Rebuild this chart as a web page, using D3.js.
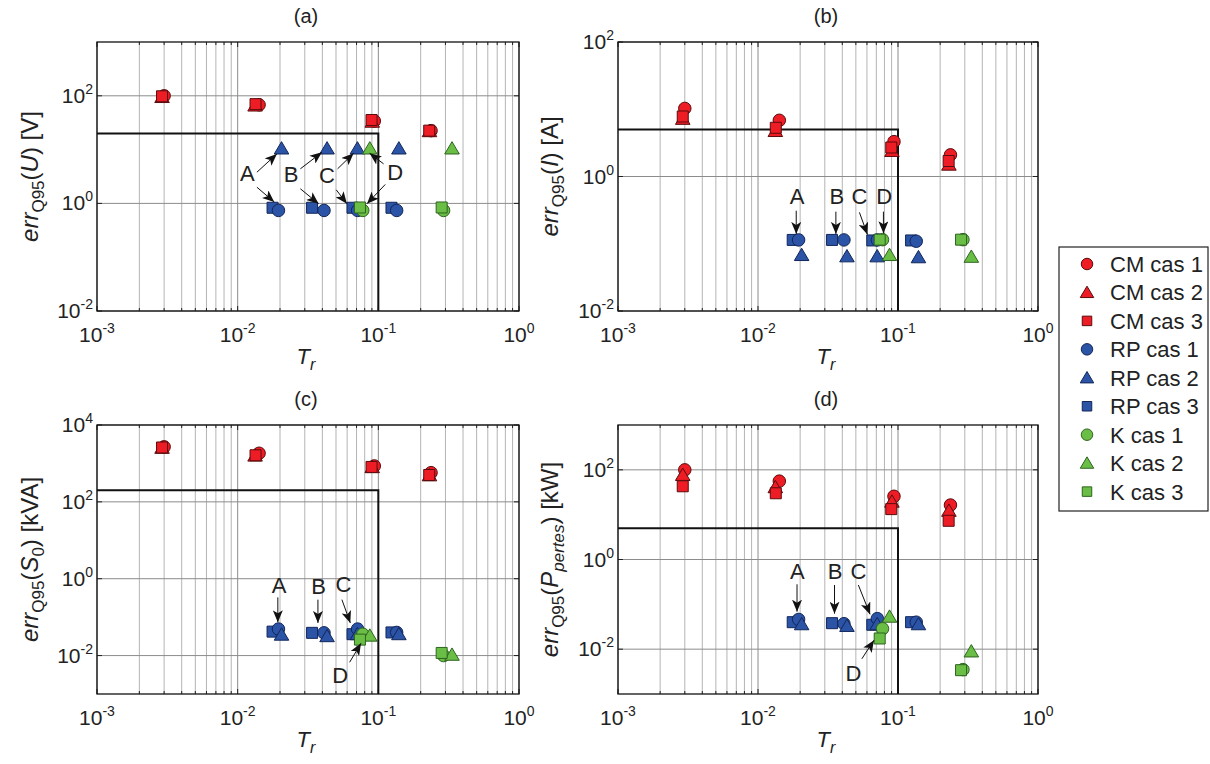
<!DOCTYPE html>
<html><head><meta charset="utf-8">
<script src="https://cdn.jsdelivr.net/npm/d3@7"></script>
<style>
body{margin:0;background:#fff}
svg{display:block}
text{font-family:"Liberation Sans",Arial,Helvetica,sans-serif;fill:#222}
</style>
</head><body>
<svg id="chart" width="1210" height="764"></svg>
<script>
// ---------- DATA ----------
const seriesNames = ["CM cas 1","CM cas 2","CM cas 3","RP cas 1","RP cas 2","RP cas 3","K cas 1","K cas 2","K cas 3"];
// T_r values of each series
const trCM1 = [0.0030, 0.0142, 0.0936, 0.237];
const trCM2 = [0.0029, 0.0133, 0.0905, 0.231];
const trCM3 = [0.0029, 0.0134, 0.0895, 0.230];
const trRP1 = [0.0195, 0.0411, 0.0712, 0.135];
const trRP2 = [0.0205, 0.0432, 0.0710, 0.140];
const trRP3 = [0.0177, 0.0338, 0.0655, 0.124];
const trK1  = [0.0775, 0.291];
const trK2  = [0.0870, 0.334];
const trK3  = [0.0740, 0.282];
const trAll = [trCM1, trCM2, trCM3, trRP1, trRP2, trRP3, trK1, trK2, trK3];

// (a) err_Q95(U) [V]
const errU = [
  [100, 68, 34, 22.5],
  [95, 66, 33, 22],
  [98, 70, 35.5, 22.5],
  [0.74, 0.74, 0.74, 0.74],
  [10.5, 10.5, 10.5, 10.5],
  [0.83, 0.83, 0.83, 0.83],
  [0.74, 0.74],
  [10.5, 10.5],
  [0.84, 0.84]
];
// (b) err_Q95(I) [A]
const errI = [
  [10.3, 6.85, 3.3, 2.1],
  [7.2, 4.75, 2.4, 1.5],
  [7.8, 5.3, 2.7, 1.7],
  [0.114, 0.114, 0.114, 0.109],
  [0.068, 0.065, 0.065, 0.063],
  [0.114, 0.114, 0.112, 0.112],
  [0.115, 0.115],
  [0.068, 0.064],
  [0.115, 0.115]
];
// (c) err_Q95(S0) [kVA]
const errS0 = [
  [2700, 1840, 860, 575],
  [2550, 1600, 800, 490],
  [2600, 1630, 810, 500],
  [0.049, 0.039, 0.049, 0.040],
  [0.035, 0.032, 0.036, 0.036],
  [0.042, 0.039, 0.036, 0.040],
  [0.036, 0.010],
  [0.033, 0.0105],
  [0.026, 0.0117]
];
// (d) err_Q95(P_pertes) [kW]
const errP = [
  [100, 56, 25.7, 16.4],
  [77, 41, 19.5, 12.2],
  [43, 30, 13.3, 7.3],
  [0.046, 0.037, 0.048, 0.040],
  [0.036, 0.033, 0.036, 0.036],
  [0.040, 0.038, 0.035, 0.040],
  [0.0286, 0.0035],
  [0.053, 0.0089],
  [0.0173, 0.0034]
];

const trLimit = 0.1;
const thresholds = [20, 5, 200, 5];
const xTicks = [1e-3, 1e-2, 1e-1, 1e0];
const yTicksA = [1e-2, 1e0, 1e2];
const yTicksB = [1e-2, 1e0, 1e2];
const yTicksC = [1e-2, 1e0, 1e2, 1e4];
const yTicksD = [1e-2, 1e0, 1e2];
const yDomains = [[1e-2, 1e3], [1e-2, 1e2], [1e-3, 1e4], [1e-3, 1e3]];
const panelTitles = ["(a)", "(b)", "(c)", "(d)"];

// annotations: label [x,y], arrows [[x1,y1,x2,y2],...] in data coords
const annotA = [
  {t:"A", p:[0.01174, 3.64], a:[[0.0137,3.80,0.0190,8.32],[0.0137,2.00,0.0182,1.06]]},
  {t:"B", p:[0.0240, 3.55], a:[[0.0279,4.39,0.0397,8.9],[0.0279,1.87,0.0376,0.987]]},
  {t:"C", p:[0.0431, 3.44], a:[[0.0513,4.39,0.0667,8.54],[0.0502,1.79,0.0598,0.987]]},
  {t:"D", p:[0.132, 3.80], a:[[0.109,5.43,0.0867,8.54],[0.112,2.25,0.0831,0.987]]}
];
const annotB = [
  {t:"A", p:[0.0190, 0.505], a:[[0.01875,0.310,0.01875,0.140]]},
  {t:"B", p:[0.0365, 0.505], a:[[0.0360,0.300,0.0360,0.140]]},
  {t:"C", p:[0.0530, 0.505], a:[[0.0530,0.293,0.0605,0.137]]},
  {t:"D", p:[0.0796, 0.505], a:[[0.0787,0.300,0.0787,0.143]]}
];
const annotC = [
  {t:"A", p:[0.0197, 0.686], a:[[0.0193,0.327,0.0193,0.0733]]},
  {t:"B", p:[0.0376, 0.658], a:[[0.0372,0.285,0.0372,0.0707]]},
  {t:"C", p:[0.0566, 0.728], a:[[0.0551,0.285,0.0632,0.0707]]},
  {t:"D", p:[0.0536, 0.00303], a:[[0.0625,0.0067,0.0753,0.0209]]}
];
const annotD = [
  {t:"A", p:[0.0191, 0.556], a:[[0.0190,0.280,0.0190,0.0687]]},
  {t:"B", p:[0.0356, 0.556], a:[[0.0352,0.270,0.0352,0.0619]]},
  {t:"C", p:[0.0521, 0.556], a:[[0.0521,0.270,0.0632,0.0597]]},
  {t:"D", p:[0.0481, 0.00296], a:[[0.0552,0.0061,0.0674,0.0159]]}
];

// ---------- STYLE ----------
const shapes = ["circle","triangle","square","circle","triangle","square","circle","triangle","square"];
const fills  = ["#ee1c24","#ee1c24","#ee1c24","#2b54a6","#2b54a6","#2b54a6","#6abd45","#6abd45","#6abd45"];
const strokes= ["#5a0c0e","#5a0c0e","#5a0c0e","#12265a","#12265a","#12265a","#2e6420","#2e6420","#2e6420"];
const drawOrder = [0,1,2,5,3,4,6,7,8];

const layout = [
  {left:97, top:42, w:422, h:269, ylabX:38},
  {left:618, top:42, w:420, h:269, ylabX:558},
  {left:97, top:425, w:422, h:269, ylabX:38},
  {left:618, top:425, w:420, h:269, ylabX:558}
];

const svg = d3.select("#chart");
const defs = svg.append("defs");
defs.append("marker").attr("id","arrowhead").attr("viewBox","0 0 12 10")
  .attr("refX",12).attr("refY",5).attr("markerWidth",12).attr("markerHeight",10)
  .attr("markerUnits","userSpaceOnUse").attr("orient","auto")
  .append("path").attr("d","M0,0 L12,5 L0,10 L3,5 Z").attr("fill","#111");

function shapePath(shape, size){
  const r = size/2;
  if(shape==="circle") return d3.symbol(d3.symbolCircle, Math.PI*r*r)();
  if(shape==="square") return `M${-r},${-r}H${r}V${r}H${-r}Z`;
  return `M0,${-r*1.05}L${r*1.12},${r*0.85}L${-r*1.12},${r*0.85}Z`;
}
const markerSize = {circle:12.5, square:11, triangle:13};

function supLabel(sel, base, exp){
  sel.append("tspan").text(base);
  sel.append("tspan").attr("font-size",14).attr("dy",-9).text(exp);
}

function minorTicks(domain){
  const out=[];
  const lo=Math.round(Math.log10(domain[0])), hi=Math.round(Math.log10(domain[1]));
  for(let e=lo;e<hi;e++) for(let k=2;k<=9;k++) out.push(k*Math.pow(10,e));
  return out;
}

const yLabels = [
  {unit:"U", unitSub:null, tail:") [V]"},
  {unit:"I", unitSub:null, tail:") [A]"},
  {unit:"S", unitSub:"0", tail:") [kVA]"},
  {unit:"P", unitSub:"pertes", tail:") [kW]"}
];
const yTickSets = [yTicksA, yTicksB, yTicksC, yTicksD];
const dataSets = [errU, errI, errS0, errP];
const annotSets = [annotA, annotB, annotC, annotD];

layout.forEach((L, pi) => {
  const g = svg.append("g").attr("transform",`translate(${L.left},${L.top})`);
  const x = d3.scaleLog().domain([1e-3, 1]).range([0, L.w]);
  const y = d3.scaleLog().domain(yDomains[pi]).range([L.h, 0]);
  const xMinor = minorTicks([1e-3,1]);
  const yt = yTickSets[pi];

  // grid
  g.append("g").selectAll("line").data(xMinor).join("line")
    .attr("x1",d=>x(d)).attr("x2",d=>x(d)).attr("y1",0).attr("y2",L.h)
    .attr("stroke","#b4b4b4").attr("stroke-width",1);
  g.append("g").selectAll("line").data(xTicks).join("line")
    .attr("x1",d=>x(d)).attr("x2",d=>x(d)).attr("y1",0).attr("y2",L.h)
    .attr("stroke","#8c8c8c").attr("stroke-width",1);
  g.append("g").selectAll("line").data(yt).join("line")
    .attr("x1",0).attr("x2",L.w).attr("y1",d=>y(d)).attr("y2",d=>y(d))
    .attr("stroke","#8c8c8c").attr("stroke-width",1);

  // ticks (inward, all sides)
  const tk = g.append("g").attr("stroke","#222").attr("stroke-width",1);
  xMinor.forEach(d=>{
    tk.append("line").attr("x1",x(d)).attr("x2",x(d)).attr("y1",L.h).attr("y2",L.h-3);
    tk.append("line").attr("x1",x(d)).attr("x2",x(d)).attr("y1",0).attr("y2",3);
  });
  xTicks.forEach(d=>{
    tk.append("line").attr("x1",x(d)).attr("x2",x(d)).attr("y1",L.h).attr("y2",L.h-5);
    tk.append("line").attr("x1",x(d)).attr("x2",x(d)).attr("y1",0).attr("y2",5);
  });
  yt.forEach(d=>{
    tk.append("line").attr("x1",0).attr("x2",5).attr("y1",y(d)).attr("y2",y(d));
    tk.append("line").attr("x1",L.w).attr("x2",L.w-5).attr("y1",y(d)).attr("y2",y(d));
  });

  // threshold
  const th = thresholds[pi];
  g.append("path")
    .attr("d",`M0,${y(th)}H${x(trLimit)}V${L.h}`)
    .attr("fill","none").attr("stroke","#111").attr("stroke-width",2);

  // frame
  g.append("rect").attr("x",0).attr("y",0).attr("width",L.w).attr("height",L.h)
    .attr("fill","none").attr("stroke","#111").attr("stroke-width",1.3);

  // tick labels
  xTicks.forEach(d=>{
    const t = g.append("text").attr("x",x(d)).attr("y",L.h+31).attr("text-anchor","middle").attr("font-size",21);
    supLabel(t,"10",String(Math.round(Math.log10(d))));
  });
  yt.forEach(d=>{
    const t = g.append("text").attr("x",-4).attr("y",y(d)+7).attr("text-anchor","end").attr("font-size",21);
    supLabel(t,"10",String(Math.round(Math.log10(d))));
  });

  // title
  g.append("text").attr("x",L.w/2 - 2).attr("y",-19).attr("text-anchor","middle").attr("font-size",20).text(panelTitles[pi]);

  // x label
  const xl = g.append("text").attr("x",L.w/2 - 2).attr("y",L.h+53).attr("text-anchor","middle").attr("font-size",22);
  xl.append("tspan").attr("font-style","italic").text("T");
  xl.append("tspan").attr("font-style","italic").attr("font-size",16).attr("dy",6).text("r");

  // y label
  const yl = yLabels[pi];
  const ylab = g.append("text").attr("transform",`translate(${L.ylabX - L.left},${L.h/2}) rotate(-90)`)
    .attr("text-anchor","middle").attr("font-size",24);
  ylab.append("tspan").attr("font-style","italic").text("err");
  ylab.append("tspan").attr("font-size",17).attr("dy",6).text("Q95");
  ylab.append("tspan").attr("dy",-6).text("(");
  ylab.append("tspan").attr("font-style","italic").text(yl.unit);
  if(yl.unitSub){
    ylab.append("tspan").attr("font-size",17).attr("dy",6).attr("font-style", yl.unitSub==="pertes"?"italic":"normal").text(yl.unitSub);
    ylab.append("tspan").attr("dy",-6).text(yl.tail);
  } else {
    ylab.append("tspan").text(yl.tail);
  }

  // points
  const vals = dataSets[pi];
  drawOrder.forEach(si=>{
    const pts = trAll[si].map((tv,i)=>[tv, vals[si][i]]);
    g.append("g").selectAll("path").data(pts).join("path")
      .attr("transform",d=>`translate(${x(d[0])},${y(d[1])})`)
      .attr("d",shapePath(shapes[si], markerSize[shapes[si]]))
      .attr("fill",fills[si]).attr("stroke",strokes[si]).attr("stroke-width",1);
  });

  // annotations
  annotSets[pi].forEach(an=>{
    g.append("text").attr("x",x(an.p[0])).attr("y",y(an.p[1])+8).attr("text-anchor","middle")
      .attr("font-size",22).text(an.t);
    an.a.forEach(ar=>{
      g.append("line").attr("x1",x(ar[0])).attr("y1",y(ar[1])).attr("x2",x(ar[2])).attr("y2",y(ar[3]))
        .attr("stroke","#111").attr("stroke-width",1).attr("marker-end","url(#arrowhead)");
    });
  });
});

// legend
const lg = svg.append("g").attr("transform","translate(1059,247)");
lg.append("rect").attr("x",0).attr("y",0).attr("width",149).attr("height",264)
  .attr("fill","#fff").attr("stroke","#222").attr("stroke-width",1.2);
seriesNames.forEach((nm,i)=>{
  const cy = 17 + i*28.45;
  const sz = shapes[i]==="circle"?11.5:(shapes[i]==="square"?9.5:12);
  lg.append("path").attr("transform",`translate(28,${cy})`).attr("d",shapePath(shapes[i],sz))
    .attr("fill",fills[i]).attr("stroke",strokes[i]).attr("stroke-width",1);
  lg.append("text").attr("x",51).attr("y",cy+8).attr("font-size",22).text(nm);
});
</script>
</body></html>
